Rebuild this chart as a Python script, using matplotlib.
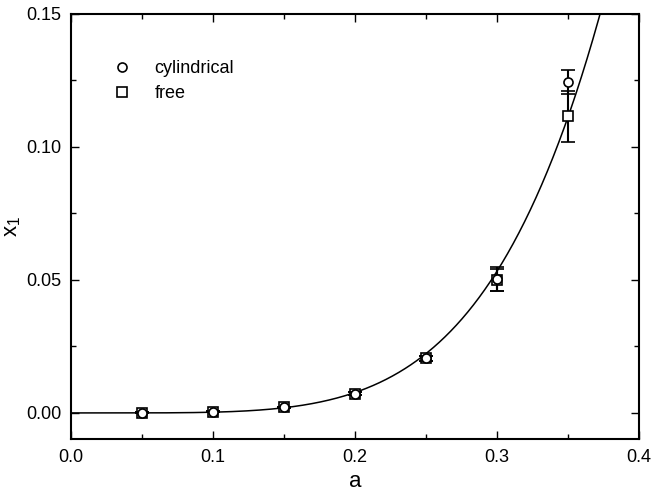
import numpy as np
import matplotlib
matplotlib.use("Agg")
import matplotlib.pyplot as plt
from matplotlib.ticker import MultipleLocator, FormatStrFormatter
from matplotlib.lines import Line2D

# data
a_vals = [0.05, 0.10, 0.15, 0.20, 0.25, 0.30, 0.35]
cyl = [0.0001, 0.0005, 0.0021, 0.0073, 0.0205, 0.0505, 0.1245]
cyl_err = [0.0002, 0.0002, 0.0003, 0.0005, 0.0008, 0.0045, 0.0045]
free = [0.0001, 0.0005, 0.0021, 0.0073, 0.0205, 0.0500, 0.1115]
free_err = [0.0002, 0.0002, 0.0003, 0.0005, 0.0008, 0.0040, 0.0095]

plt.rcParams['font.family'] = ['Liberation Sans', 'DejaVu Sans']
plt.rcParams['mathtext.fontset'] = 'custom'
plt.rcParams['mathtext.rm'] = 'Liberation Sans'

fig = plt.figure(figsize=(6.68, 4.97), dpi=100)
ax = fig.add_axes([71/668, 1-439/497, (639-71)/668, (439-14)/497])

# power-law fit (log space) to the data points a >= 0.15
A = np.log(np.array(a_vals[2:]))
Y = np.log(np.array(cyl[2:]))
n, logc = np.polyfit(A, Y, 1)
ac = np.linspace(0.0, 0.4, 800)
yc = np.exp(logc) * ac**n
ax.plot(ac, yc, color='black', lw=1.1, zorder=2)

ax.errorbar(a_vals, free, yerr=free_err, fmt='s', mfc='white', mec='black',
            color='black', ms=6.5, mew=1.2, capsize=5, elinewidth=1.5,
            capthick=1.5, zorder=3)
ax.errorbar(a_vals, cyl, yerr=cyl_err, fmt='o', mfc='white', mec='black',
            color='black', ms=6.5, mew=1.2, capsize=5, elinewidth=1.5,
            capthick=1.5, zorder=4)

ax.set_xlim(0.0, 0.4)
ax.set_ylim(-0.0098, 0.15)
ax.xaxis.set_major_locator(MultipleLocator(0.1))
ax.xaxis.set_minor_locator(MultipleLocator(0.05))
ax.yaxis.set_major_locator(MultipleLocator(0.05))
ax.yaxis.set_minor_locator(MultipleLocator(0.025))
ax.xaxis.set_major_formatter(FormatStrFormatter('%.1f'))
ax.yaxis.set_major_formatter(FormatStrFormatter('%.2f'))
ax.tick_params(which='both', direction='in', top=True, right=True, width=1.0)
ax.tick_params(which='major', length=6, labelsize=13, pad=7)
ax.tick_params(which='minor', length=3.5)
for s in ax.spines.values():
    s.set_linewidth(1.5)

ax.set_xlabel('a', fontsize=16, labelpad=4)
ax.set_ylabel('$\\mathregular{x_1}$', fontsize=16, labelpad=2)

hc = Line2D([], [], ls='none', marker='o', mfc='white', mec='black', ms=6.5, mew=1.2)
hf = Line2D([], [], ls='none', marker='s', mfc='white', mec='black', ms=6.5, mew=1.2)
ax.legend([hc, hf], ['cylindrical', 'free'], loc='upper left',
          bbox_to_anchor=(0.045, 0.93), frameon=False, fontsize=13,
          handlelength=1.0, handletextpad=1.3, labelspacing=0.45)

fig.savefig('out.png', dpi=100)
